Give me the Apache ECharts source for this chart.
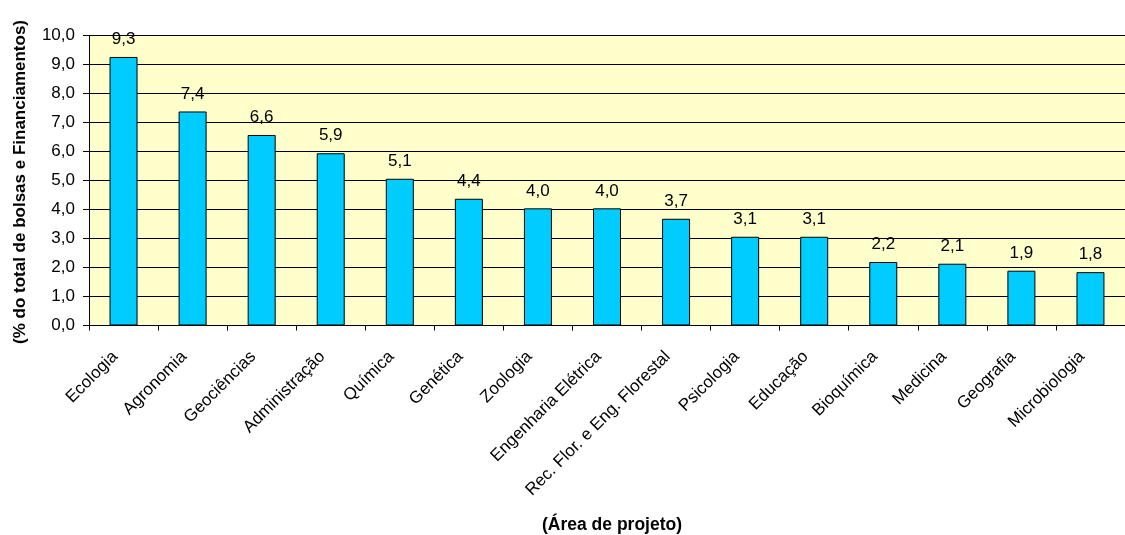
<!DOCTYPE html>
<html><head><meta charset="utf-8">
<script src="https://cdn.jsdelivr.net/npm/echarts@6/dist/echarts.min.js"></script>
<style>html,body{margin:0;padding:0;background:#fff}#c{width:1125px;height:535px}</style>
</head><body><div id="c"></div>
<script>
const categories = ["Ecologia","Agronomia","Geociências","Administração","Química","Genética","Zoologia","Engenharia Elétrica","Rec. Flor. e Eng. Florestal","Psicologia","Educação","Bioquímica","Medicina","Geografia","Microbiologia"];
const values = [9.26, 7.38, 6.57, 5.94, 5.06, 4.37, 4.04, 4.04, 3.68, 3.06, 3.06, 2.19, 2.13, 1.89, 1.84];
const yTitle = "(% do total de bolsas e Financiamentos)";
const xTitle = "(Área de projeto)";
const fmt = v => v.toFixed(1).replace('.', ',');
const F = "'Liberation Sans', Arial, sans-serif";
const chart = echarts.init(document.getElementById('c'));
chart.setOption({
  animation: false,
  textStyle: {fontFamily: F},
  grid: {left: 89, right: -10, top: 35.5, height: 290, backgroundColor: '#FFFFCC', show: true, borderWidth: 0},
  xAxis: {
    type: 'category', data: categories,
    axisLine: {lineStyle: {color: '#000', width: 1}},
    axisTick: {show: true, alignWithLabel: false, length: 5, lineStyle: {color: '#000'}},
    axisLabel: {rotate: 45, color: '#000', fontSize: 17, fontFamily: F, margin: 20, padding: [0, 12, 0, 0], interval: 0}
  },
  yAxis: {
    type: 'value', min: 0, max: 10, interval: 1,
    axisLine: {show: true, lineStyle: {color: '#000'}},
    axisTick: {show: true, length: 6, lineStyle: {color: '#000'}},
    splitLine: {show: true, lineStyle: {color: '#000', width: 1}},
    axisLabel: {color: '#000', fontSize: 17, fontFamily: F, margin: 14, formatter: v => fmt(v)}
  },
  series: [{
    type: 'bar', data: values, barWidth: 28,
    itemStyle: {color: '#00CCFF', borderColor: '#000', borderWidth: 1},
    label: {show: true, position: 'top', distance: 9, color: '#000', fontSize: 17, fontFamily: F, formatter: p => fmt(p.value)}
  }],
  graphic: [
    {type: 'text', x: 20, y: 182, rotation: Math.PI/2, style: {text: yTitle, fill: '#000', font: "bold 17px " + F, align: 'center', verticalAlign: 'middle'}},
    {type: 'text', x: 612, y: 525, style: {text: xTitle, fill: '#000', font: "bold 17.5px " + F, align: 'center', verticalAlign: 'middle'}}
  ]
});
</script></body></html>
